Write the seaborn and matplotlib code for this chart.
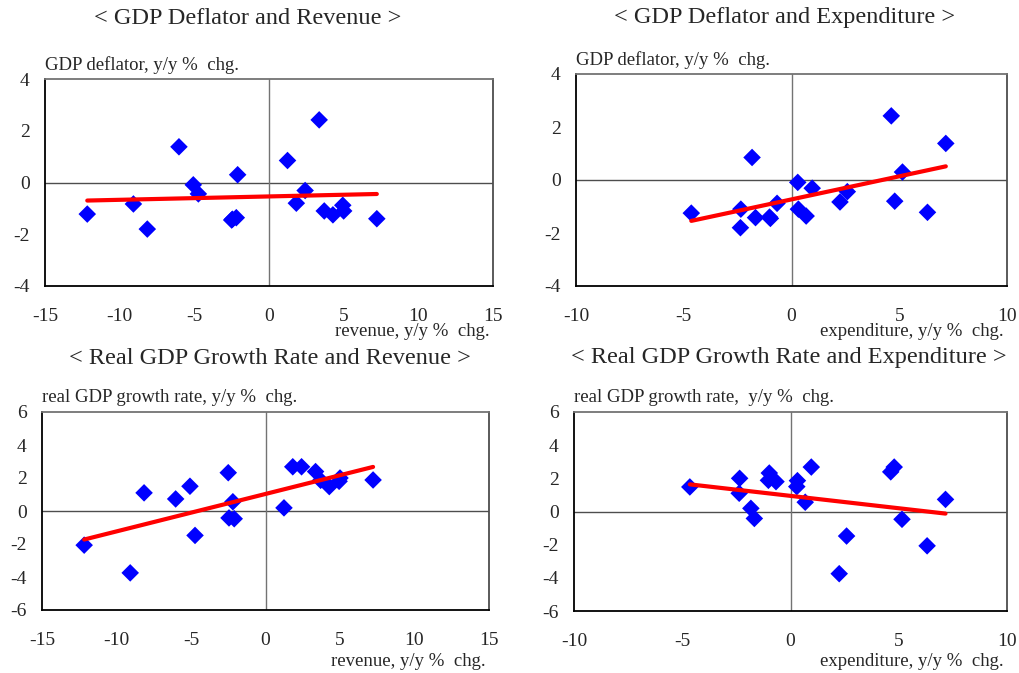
import numpy as np
import pandas as pd
import matplotlib
matplotlib.use('Agg')
import matplotlib.pyplot as plt
import seaborn as sns

sns.set_style('white')
plt.rcParams['font.family'] = ['Liberation Serif', 'DejaVu Serif']
plt.rcParams['axes.unicode_minus'] = False

# one value per year
revenue = [-12.17, -9.08, -8.15, -6.03, -5.07, -4.73, -2.50, -2.45, -2.19, -2.10,
           1.24, 1.83, 2.42, 3.36, 3.70, 4.28, 4.94, 5.00, 7.22]
expenditure = [6.31, 2.25, -2.37, 7.16, 0.29, 2.59, -0.98, -1.67, 0.68, 5.15,
               -1.83, 4.79, 0.96, 4.63, 0.32, -4.65, -0.67, -2.35, -1.02]
deflator = [-1.22, -0.83, -1.80, 1.38, -0.09, -0.44, -1.45, -1.42, -1.36, 0.30,
            0.85, -0.80, -0.31, 2.42, -1.10, -1.25, -0.88, -1.10, -1.40]
growth = [-2.07, -3.75, 1.10, 0.73, 1.50, -1.48, 2.32, -0.42, 0.56, -0.47,
          0.19, 2.68, 2.68, 2.39, 1.86, 1.48, 1.80, 2.00, 1.88]

df = pd.DataFrame({'revenue': revenue, 'expenditure': expenditure,
                   'deflator': deflator, 'growth': growth})

W, H = 1019, 673
fig = plt.figure(figsize=(W / 100, H / 100), dpi=100)


def px_axes(left, top, right, bottom):
    return fig.add_axes([left / W, 1 - bottom / H, (right - left) / W, (bottom - top) / H])


panels = [
    # x col, y col, box in px, xlim, xticks, ylim, yticks, title, ylabel, xlabel
    ('revenue', 'deflator', (45, 79, 493, 286), (-15, 15), range(-15, 16, 5), (-4, 4), range(-4, 5, 2),
     '< GDP Deflator and Revenue >', 'GDP deflator, y/y %  chg.', 'revenue, y/y %  chg.'),
    ('expenditure', 'deflator', (576, 74, 1007, 286), (-10, 10), range(-10, 11, 5), (-4, 4), range(-4, 5, 2),
     '< GDP Deflator and Expenditure >', 'GDP deflator, y/y %  chg.', 'expenditure, y/y %  chg.'),
    ('revenue', 'growth', (42, 412, 489, 610), (-15, 15), range(-15, 16, 5), (-6, 6), range(-6, 7, 2),
     '< Real GDP Growth Rate and Revenue >', 'real GDP growth rate, y/y %  chg.', 'revenue, y/y %  chg.'),
    ('expenditure', 'growth', (574, 412, 1007, 611), (-10, 10), range(-10, 11, 5), (-6, 6), range(-6, 7, 2),
     '< Real GDP Growth Rate and Expenditure >', 'real GDP growth rate,  y/y %  chg.', 'expenditure, y/y %  chg.'),
]

title_pos = [(248, 18), (785, 18), (270, 358), (789, 358)]
xlabel_gap = [46, 46, 51, 51]

for (xc, yc, box, xlim, xt, ylim, yt, title, ylab, xlab), (tx, ty), gap in zip(panels, title_pos, xlabel_gap):
    ax = px_axes(*box)
    ax.axhline(0, color='0.3', lw=1, zorder=1)
    ax.axvline(0, color='0.45', lw=1, zorder=1)
    sns.regplot(data=df, x=xc, y=yc, ax=ax, ci=None, marker='D',
                scatter_kws=dict(color='#0000ff', s=80, edgecolor='none', zorder=3, alpha=1),
                line_kws=dict(color='#ff0000', lw=3, zorder=4))
    ax.set_xlim(*xlim)
    ax.set_ylim(*ylim)
    ax.set_xticks(list(xt))
    ax.set_yticks(list(yt))
    ax.set_xlabel('')
    ax.set_ylabel('')
    for s in ax.spines.values():
        s.set_color('black')
        s.set_linewidth(1.3)
    ax.spines['top'].set_color('0.45')
    ax.spines['right'].set_color('0.3')
    ax.tick_params(axis='x', direction='in', length=4, pad=16, labelsize=14, color='black')
    ax.tick_params(axis='y', direction='out', length=5, pad=6, labelsize=14, color='black')

    fig.text(tx / W, 1 - ty / H, title, ha='center', va='center', fontsize=17.5)
    fig.text(box[0] / W, 1 - (box[1] - 14) / H, ylab, ha='left', va='center', fontsize=13.5)
    fig.text((box[2] - 3) / W, 1 - (box[3] + gap) / H, xlab, ha='right', va='center', fontsize=13.5)

fig.savefig('out.png', dpi=100)
